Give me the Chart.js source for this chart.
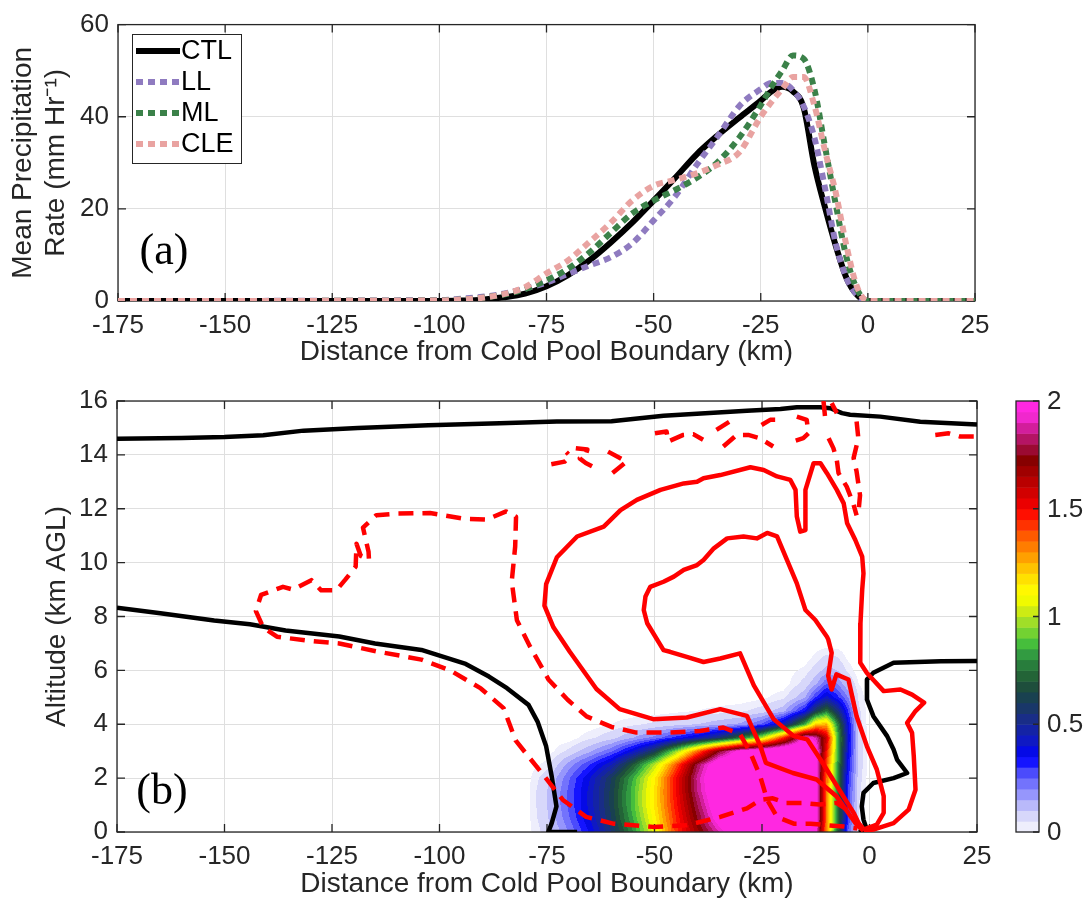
<!DOCTYPE html>
<html>
<head>
<meta charset="utf-8">
<title>Precipitation and cross-section relative to the cold pool boundary</title>
<script src="https://cdn.jsdelivr.net/npm/chart.js@4.4.1/dist/chart.umd.min.js"></script>
<style>
  html, body { margin: 0; padding: 0; background: #fff; }
  #wrap { position: relative; width: 1091px; height: 903px; overflow: hidden; }
  #wrap canvas { position: absolute; left: 0; }
  #rateChart { top: 0; width: 1091px; height: 372px; }
  #fieldChart { top: 372px; width: 1091px; height: 531px; }
</style>
</head>
<body>
<div id="wrap">
  <canvas id="rateChart" width="1091" height="372"></canvas>
  <canvas id="fieldChart" width="1091" height="531"></canvas>
</div>
<script>
// ---- panel (a): mean precipitation rate ----
const distance = [-175, -100, -95, -90, -85, -80, -75, -70, -65, -60, -55, -50, -45, -40, -35, -30, -25, -22.5, -20, -17.5, -15, -12.5, -10, -7.5, -5, -2.5, 0, 25];
const rateCTL = [0, 0, 0.1, 0.3, 0.8, 1.6, 3.2, 5.6, 8.8, 12.7, 17.0, 21.8, 26.7, 31.8, 36.0, 39.8, 43.5, 45.5, 46.5, 45.5, 42.0, 29.5, 20.3, 12.0, 5.0, 1.3, 0, 0];
const rateLL = [0, 0.2, 0.5, 0.9, 1.6, 2.7, 4.0, 5.9, 7.7, 9.5, 12.5, 17.5, 22.7, 29.5, 35.8, 42.3, 46.0, 47.3, 47.3, 45.8, 42.3, 35.5, 24.5, 12.5, 5.0, 1.3, 0, 0];
const rateML = [0, 0.1, 0.3, 0.7, 1.4, 2.6, 4.5, 7.0, 10.5, 14.8, 19.0, 21.8, 24.1, 26.7, 30.2, 35.5, 42.5, 46.5, 50.0, 53.3, 52.6, 46.0, 33.5, 21.0, 9.5, 2.5, 0, 0];
const rateCLE = [0, 0.1, 0.3, 0.7, 1.5, 3.0, 6.0, 8.8, 12.8, 17.0, 21.8, 25.0, 26.3, 27.7, 29.6, 32.3, 40.0, 43.2, 46.0, 48.6, 48.6, 42.5, 32.6, 23.5, 12.0, 3.0, 0, 0];
const rateLabels = ['CTL', 'LL', 'ML', 'CLE'];

// ---- panel (b): shaded field (columns = distance, rows = altitude) ----
const fieldX = [-85, -80, -75, -70, -65, -60, -55, -50, -45, -40, -35, -30, -25, -20, -15, -12.5, -10, -7.5, -5, -2.5, 0, 5];
const fieldZ = [0, 0.5, 1, 1.5, 2, 2.5, 3, 3.5, 4, 4.5, 5, 5.5, 6, 6.5, 7];
const fieldValues = [
  [0, 0, 0, 0, 0, 0, 0, 0, 0, 0, 0, 0, 0, 0, 0],
  [0, 0, 0, 0, 0, 0, 0, 0, 0, 0, 0, 0, 0, 0, 0],
  [0.07, 0.09, 0.1, 0.1, 0.08, 0.03, 0, 0, 0, 0, 0, 0, 0, 0, 0],
  [0.2, 0.24, 0.26, 0.26, 0.24, 0.17, 0.06, 0, 0, 0, 0, 0, 0, 0, 0],
  [0.36, 0.4, 0.42, 0.42, 0.4, 0.3, 0.14, 0.04, 0, 0, 0, 0, 0, 0, 0],
  [0.55, 0.6, 0.62, 0.62, 0.6, 0.45, 0.24, 0.08, 0.02, 0, 0, 0, 0, 0, 0],
  [0.8, 0.85, 0.88, 0.88, 0.85, 0.7, 0.4, 0.15, 0.04, 0, 0, 0, 0, 0, 0],
  [1.08, 1.13, 1.16, 1.16, 1.14, 1.0, 0.6, 0.22, 0.06, 0, 0, 0, 0, 0, 0],
  [1.42, 1.45, 1.48, 1.5, 1.5, 1.38, 0.95, 0.32, 0.08, 0.01, 0, 0, 0, 0, 0],
  [1.68, 1.75, 1.8, 1.85, 1.87, 1.8, 1.35, 0.42, 0.1, 0.02, 0, 0, 0, 0, 0],
  [1.9, 2.02, 2.08, 2.12, 2.14, 2.1, 1.75, 0.55, 0.13, 0.03, 0, 0, 0, 0, 0],
  [2.1, 2.2, 2.2, 2.2, 2.2, 2.2, 2.02, 0.75, 0.16, 0.04, 0, 0, 0, 0, 0],
  [2.2, 2.2, 2.2, 2.2, 2.2, 2.2, 2.1, 1.0, 0.26, 0.07, 0.01, 0, 0, 0, 0],
  [2.2, 2.2, 2.2, 2.2, 2.2, 2.2, 2.2, 1.45, 0.45, 0.13, 0.04, 0, 0, 0, 0],
  [2.2, 2.2, 2.2, 2.2, 2.2, 2.2, 2.2, 2.0, 0.85, 0.35, 0.14, 0.07, 0.03, 0, 0],
  [2.0, 2.05, 2.05, 2.05, 2.05, 2.05, 2.05, 1.9, 1.2, 0.6, 0.3, 0.14, 0.07, 0.03, 0],
  [1.3, 1.35, 1.35, 1.35, 1.35, 1.4, 1.5, 1.6, 1.25, 0.75, 0.42, 0.25, 0.12, 0.06, 0],
  [0.75, 0.8, 0.8, 0.8, 0.82, 0.85, 0.9, 0.9, 0.8, 0.55, 0.32, 0.2, 0.1, 0.05, 0],
  [0.25, 0.3, 0.3, 0.3, 0.32, 0.35, 0.38, 0.4, 0.38, 0.3, 0.2, 0.1, 0.04, 0.01, 0],
  [0.04, 0.05, 0.05, 0.06, 0.07, 0.08, 0.08, 0.08, 0.07, 0.06, 0.04, 0.02, 0, 0, 0],
  [0, 0, 0, 0, 0, 0, 0, 0, 0, 0, 0, 0, 0, 0, 0],
  [0, 0, 0, 0, 0, 0, 0, 0, 0, 0, 0, 0, 0, 0, 0]
];
const colorbarTicks = [0, 0.5, 1, 1.5, 2];

// ---- panel (b): contour lines, [distance km, altitude km] ----
const blackTop = [[-175, 14.6], [-160, 14.63], [-150, 14.66], [-141, 14.73], [-131.6, 14.9], [-119, 15.0], [-102.6, 15.1], [-86, 15.17], [-72.7, 15.24], [-60, 15.25], [-47.9, 15.45], [-28.5, 15.64], [-20.7, 15.7], [-16.9, 15.77], [-11.4, 15.77], [-9.1, 15.73], [-6.4, 15.55], [-4.5, 15.49], [2.5, 15.42], [11.8, 15.23], [25, 15.13]];
const blackLeft = [[-175, 8.33], [-164.9, 8.12], [-152.4, 7.85], [-144.1, 7.71], [-135.8, 7.48], [-123.3, 7.26], [-115, 7.0], [-104.2, 6.76], [-93.9, 6.24], [-88.5, 5.77], [-84.3, 5.34], [-79.3, 4.72], [-77.2, 4.1], [-75.2, 3.18], [-73.9, 2.06], [-72.8, 0.95], [-73.9, 0.33], [-74.7, 0], [-68, 0]];
const blackRight = [[25, 6.35], [16.6, 6.34], [5.6, 6.28], [0.9, 5.91], [-0.6, 5.66], [-0.6, 4.92], [0.9, 4.3], [4.1, 3.56], [5.6, 3.06], [6.4, 2.69], [8.75, 2.19], [5.6, 2.0], [0.9, 1.82], [-1.4, 1.45], [-1.8, 0.95], [-1.4, 0.46], [-0.6, 0.08], [-2.5, 0]];
const redOuter = [[-1.4, 0.05], [-3, 0.27], [-7.7, 1.33], [-12.3, 1.95], [-17.8, 2.19], [-24.1, 2.57], [-25.4, 3.19], [-28.5, 4.31], [-34.7, 4.56], [-42.5, 4.25], [-50.3, 4.19], [-58.1, 4.56], [-63.5, 5.31], [-69.7, 6.69], [-73.5, 7.6], [-75.6, 8.4], [-75.2, 9.2], [-72.7, 10.2], [-68, 10.97], [-61.8, 11.34], [-57.9, 11.95], [-54.1, 12.33], [-48.6, 12.7], [-43.2, 12.94], [-40.1, 13.0], [-38.6, 13.13], [-34.7, 13.25], [-27.7, 13.54], [-24.6, 13.44], [-21.5, 13.2], [-18.4, 13.07], [-17.2, 12.7], [-16.9, 11.71], [-16.1, 11.15], [-14.9, 11.21], [-14.9, 12.7], [-13, 13.69], [-11.4, 13.69], [-9.9, 13.32], [-7.6, 12.7], [-6.0, 12.2], [-5.2, 11.46], [-3.3, 10.84], [-1.7, 10.22], [-1.4, 9.6], [-1.7, 8.99], [-2.1, 7.75], [-2.1, 6.76], [-2.2, 6.28], [-0.6, 5.9], [3.3, 5.23], [7.2, 5.29], [9.9, 5.1], [12.7, 4.8], [10.7, 4.49], [8.75, 4.05], [9.9, 3.68], [10.3, 2.81], [10.7, 1.57], [9.1, 0.83], [5.6, 0.33], [0.9, 0.09], [-1.4, 0.05]];
const redInner = [[-2, 0.15], [-3.6, 0.69], [-7.5, 1.69], [-11.4, 2.69], [-14.5, 3.44], [-17.6, 3.56], [-22.3, 4.19], [-26.9, 5.44], [-30.1, 6.63], [-34.7, 6.44], [-38.6, 6.31], [-42.5, 6.5], [-46.4, 6.69], [-47.9, 6.75], [-51.7, 7.75], [-52.5, 8.24], [-52.1, 8.74], [-51, 9.1], [-47.9, 9.29], [-45.5, 9.48], [-43.2, 9.73], [-40.1, 9.91], [-38.6, 10.1], [-36.2, 10.53], [-33.1, 10.9], [-29.3, 10.97], [-26.2, 10.9], [-23.8, 11.1], [-21.5, 10.97], [-19.2, 10.1], [-16.9, 9.23], [-14.9, 8.24], [-12.6, 7.87], [-9.9, 7.25], [-9.6, 7.15], [-8.8, 6.65], [-9.6, 5.79], [-8.8, 5.29], [-7.7, 5.85], [-4.9, 5.66], [-3.0, 4.3], [-0.6, 3.18], [1.7, 2.32], [3.3, 1.33], [3.3, 0.71], [1.7, 0.27], [-1.4, 0.09]];
const dashLoop = [[-1.5, 0.15], [-3, 0.4], [-5, 0.8], [-7.7, 1.08], [-11.6, 1.02], [-15.5, 1.08], [-19.4, 1.08], [-22.5, 1.25], [-25.4, 1.19], [-28.5, 0.88], [-34.7, 0.56], [-42.5, 0.25], [-50.3, 0.19], [-59.6, 0.31], [-65.9, 0.56], [-71.3, 1.19], [-76.8, 2.31], [-79.3, 2.8], [-82.3, 3.4], [-85.1, 4.6], [-90.4, 5.33], [-97.5, 6.0], [-104.2, 6.4], [-114.5, 6.7], [-123.3, 7.0], [-130.5, 7.1], [-137.8, 7.25], [-141, 7.6], [-142.7, 8.2], [-141.5, 8.8], [-136.4, 9.1], [-134.1, 9.0], [-129.8, 9.35], [-127.5, 8.97], [-124, 8.97], [-122, 9.35], [-119.5, 9.85], [-119.3, 10.7], [-118.3, 10.25], [-116.4, 10.1], [-116.5, 10.4], [-117.8, 11.3], [-114.7, 11.76], [-110, 11.82], [-102.2, 11.84], [-94.4, 11.63], [-89, 11.6], [-84.5, 11.9], [-82.2, 11.7], [-82.4, 10.6], [-83.2, 9.3], [-82, 7.86], [-78.9, 6.87], [-74.6, 5.65], [-70.2, 4.91], [-65.8, 4.29], [-60, 3.9], [-54.2, 3.69], [-46.4, 3.69], [-39.4, 3.75], [-34, 3.88], [-30.1, 3.63], [-27.7, 2.94], [-25.4, 2.06], [-23.8, 1.19], [-21.5, 0.56], [-17.6, 0.31], [-13.7, 0.31], [-9.8, 0.25], [-5.9, 0.2], [-2.8, 0.13]];
const dashUpper1 = [[-74, 13.65], [-70.9, 13.75], [-69.6, 13.95], [-70.5, 14.1]];
const dashUpper2 = [[-68.3, 14.25], [-65.6, 14.2], [-66, 14.0], [-67.4, 13.87], [-66, 13.7], [-64.2, 13.55]];
const dashUpper3 = [[-60.8, 14.12], [-56.5, 13.75], [-60, 13.3]];
const dashUpper4 = [[-49.9, 14.8], [-47.2, 14.87], [-46.8, 14.5], [-43.3, 14.74], [-41, 14.77], [-38.7, 14.56]];
const dashUpper5 = [[-35.6, 14.93], [-32.5, 15.24]];
const dashUpper6 = [[-34, 14.31], [-30.9, 14.74], [-28.2, 14.74], [-25.5, 14.62], [-22.4, 14.31]];
const dashUpper7 = [[-25.1, 15.11], [-23.1, 15.3], [-21.2, 15.3]];
const dashUpper8 = [[-16.9, 15.42], [-14.6, 15.3], [-14.2, 14.8], [-15.4, 14.62], [-17.7, 14.5]];
const dashUpper9 = [[-10.7, 16.0], [-10.3, 15.36]];
const dashUpper10 = [[-8.8, 15.92], [-7.6, 15.55]];
const dashUpper11 = [[-9.5, 14.62], [-8.4, 14.25], [-7.6, 13.8], [-7.2, 13.32], [-5.3, 12.82], [-3.8, 12.2], [-3, 11.75]];
const dashUpper12 = [[-3, 15.24], [-2.6, 14.62], [-3.7, 13.88], [-3, 13.38], [-2.2, 12.5], [-2.5, 12.0], [-3, 11.75]];
const dashUpper13 = [[15.3, 14.74], [18.4, 14.8], [21.1, 14.68], [25, 14.68]];

// colour of each 0.05 band of the colour bar (index i = band ending at i*0.05)
const bandColors = [
  [255, 255, 255], [238, 238, 252], [215, 215, 250], [185, 185, 250], [150, 150, 252], [115, 115, 252],
  [75, 75, 252], [20, 20, 255], [5, 10, 230], [15, 25, 195], [20, 35, 165], [25, 45, 135], [25, 55, 105],
  [25, 65, 80], [30, 78, 60], [35, 100, 55], [40, 125, 60], [50, 155, 65], [70, 190, 60], [115, 210, 50],
  [160, 222, 40], [205, 235, 20], [240, 250, 0], [255, 248, 0], [255, 225, 0], [255, 195, 0], [255, 160, 0],
  [255, 125, 0], [255, 90, 0], [255, 50, 0], [255, 15, 0], [235, 0, 0], [210, 0, 0], [185, 0, 0], [160, 0, 0],
  [135, 0, 0], [155, 10, 50], [180, 20, 100], [210, 30, 155], [240, 40, 205], [255, 40, 225]
];

const SANS = "'Liberation Sans', Arial, Helvetica, sans-serif";
const SERIF = "'Liberation Serif', 'Times New Roman', serif";
const AXIS_COLOR = '#262626';
const GRID_COLOR = '#dfdfdf';

Chart.defaults.font.family = SANS;
Chart.defaults.color = AXIS_COLOR;

// box around the plot with MATLAB-style inward ticks
const matlabBox = {
  id: 'matlabBox',
  beforeDatasetsDraw(chart) {
    const { ctx, chartArea: a, scales: { x, y } } = chart;
    const len = 8;
    ctx.save();
    ctx.strokeStyle = AXIS_COLOR;
    ctx.lineWidth = 1.3;
    ctx.beginPath();
    x.ticks.forEach(t => {
      const px = x.getPixelForValue(t.value);
      ctx.moveTo(px, a.bottom); ctx.lineTo(px, a.bottom - len);
      ctx.moveTo(px, a.top); ctx.lineTo(px, a.top + len);
    });
    y.ticks.forEach(t => {
      const py = y.getPixelForValue(t.value);
      ctx.moveTo(a.left, py); ctx.lineTo(a.left + len, py);
      ctx.moveTo(a.right, py); ctx.lineTo(a.right - len, py);
    });
    ctx.stroke();
    ctx.strokeRect(a.left, a.top, a.right - a.left, a.bottom - a.top);
    ctx.restore();
  }
};

function panelTag(text, px, py) {
  return {
    id: 'panelTag',
    afterDatasetsDraw(chart) {
      const { ctx } = chart;
      ctx.save();
      ctx.font = '44px ' + SERIF;
      ctx.fillStyle = '#000';
      ctx.textAlign = 'center';
      ctx.textBaseline = 'middle';
      ctx.fillText(text, px, py);
      ctx.restore();
    }
  };
}

const rateLegend = {
  id: 'rateLegend',
  afterDatasetsDraw(chart) {
    const { ctx } = chart;
    ctx.save();
    ctx.fillStyle = '#fff';
    ctx.fillRect(132, 34, 109, 129);
    ctx.strokeStyle = AXIS_COLOR;
    ctx.lineWidth = 1;
    ctx.strokeRect(132.5, 34.5, 109, 129);
    const byLabel = {};
    chart.data.datasets.forEach(ds => { byLabel[ds.label] = ds; });
    rateLabels.forEach((label, i) => {
      const ds = byLabel[label];
      const yy = 51 + i * 31;
      ctx.strokeStyle = ds.borderColor;
      ctx.lineWidth = ds.borderWidth;
      ctx.setLineDash(ds.borderDash);
      ctx.beginPath();
      ctx.moveTo(136, yy);
      ctx.lineTo(180, yy);
      ctx.stroke();
      ctx.setLineDash([]);
      ctx.fillStyle = '#000';
      ctx.font = '27px ' + SANS;
      ctx.textBaseline = 'middle';
      ctx.fillText(label, 181, yy + 1);
    });
    ctx.restore();
  }
};

function sampleField(xv, zv) {
  const nx = fieldX.length, nz = fieldZ.length;
  if (xv <= fieldX[0] || xv >= fieldX[nx - 1] || zv < 0 || zv >= fieldZ[nz - 1]) return 0;
  let i = 0;
  while (fieldX[i + 1] < xv) i++;
  let j = 0;
  while (fieldZ[j + 1] < zv) j++;
  const tx = (xv - fieldX[i]) / (fieldX[i + 1] - fieldX[i]);
  const tz = (zv - fieldZ[j]) / (fieldZ[j + 1] - fieldZ[j]);
  const c = fieldValues;
  return (1 - tx) * (1 - tz) * c[i][j] + tx * (1 - tz) * c[i + 1][j] +
         (1 - tx) * tz * c[i][j + 1] + tx * tz * c[i + 1][j + 1];
}

function bandColor(v) {
  const idx = Math.max(1, Math.min(bandColors.length - 1, Math.ceil(v / 0.05 - 1e-9)));
  return bandColors[idx];
}

// shaded field drawn cell by cell through the chart's scales
const fieldLayer = {
  id: 'fieldLayer',
  beforeDatasetsDraw(chart) {
    const { ctx, chartArea: a, scales: { x, y } } = chart;
    const w = Math.round(a.right - a.left), h = Math.round(a.bottom - a.top);
    const off = document.createElement('canvas');
    off.width = w; off.height = h;
    const octx = off.getContext('2d');
    const img = octx.createImageData(w, h);
    const xs = [];
    for (let i = 0; i < w; i++) xs.push(x.getValueForPixel(a.left + i + 0.5));
    for (let j = 0; j < h; j++) {
      const zv = y.getValueForPixel(a.top + j + 0.5);
      for (let i = 0; i < w; i++) {
        const v = sampleField(xs[i], zv);
        if (v < 0.02) continue;
        const c = bandColor(v);
        const k = (j * w + i) * 4;
        img.data[k] = c[0]; img.data[k + 1] = c[1]; img.data[k + 2] = c[2]; img.data[k + 3] = 255;
      }
    }
    octx.putImageData(img, 0, 0);
    ctx.drawImage(off, a.left, a.top);
  }
};

const colorBar = {
  id: 'colorBar',
  afterDraw(chart) {
    const { ctx, chartArea: a } = chart;
    const left = 1016, right = 1039, top = a.top, bottom = a.bottom;
    const vmax = colorbarTicks[colorbarTicks.length - 1];
    const toY = v => bottom - (v / vmax) * (bottom - top);
    ctx.save();
    for (let i = 1; i < bandColors.length; i++) {
      const c = bandColors[i];
      const y0 = toY((i - 1) * 0.05), y1 = toY(i * 0.05);
      ctx.fillStyle = `rgb(${c[0]},${c[1]},${c[2]})`;
      ctx.fillRect(left, y1, right - left, y0 - y1 + 0.5);
    }
    ctx.strokeStyle = AXIS_COLOR;
    ctx.lineWidth = 1.3;
    ctx.strokeRect(left, top, right - left, bottom - top);
    ctx.beginPath();
    colorbarTicks.forEach(t => {
      const py = toY(t);
      ctx.moveTo(right, py); ctx.lineTo(right - 6, py);
    });
    ctx.stroke();
    ctx.fillStyle = AXIS_COLOR;
    ctx.font = '26px ' + SANS;
    ctx.textBaseline = 'middle';
    colorbarTicks.forEach(t => ctx.fillText(String(t), 1047, toY(t) + 1));
    ctx.restore();
  }
};

function axisX(titleText, height, titlePad) {
  return {
    type: 'linear', min: -175, max: 25,
    afterFit(scale) { scale.height = height; },
    grid: { color: GRID_COLOR, drawTicks: false },
    border: { display: false },
    ticks: { stepSize: 25, autoSkip: false, maxRotation: 0, padding: 9, color: AXIS_COLOR, font: { size: 26 } },
    title: { display: true, text: titleText, color: AXIS_COLOR, font: { size: 28 }, padding: { top: 0, bottom: titlePad } }
  };
}

// ---- chart (a) ----
const rateStyles = [
  { values: rateCTL, color: '#000000', dash: [], order: 4 },
  { values: rateLL, color: '#8f7bc0', dash: [7, 5], order: 3 },
  { values: rateML, color: '#3b8149', dash: [7, 5], order: 2 },
  { values: rateCLE, color: '#e9a3a1', dash: [7, 5], order: 1 }
];

new Chart(document.getElementById('rateChart'), {
  type: 'line',
  data: {
    datasets: rateStyles.map((s, i) => ({
      label: rateLabels[i],
      data: distance.map((d, k) => ({ x: d, y: s.values[k] })),
      borderColor: s.color,
      borderWidth: 6,
      borderDash: s.dash,
      borderCapStyle: 'butt',
      pointRadius: 0,
      fill: false,
      cubicInterpolationMode: 'monotone',
      order: s.order
    }))
  },
  options: {
    responsive: false,
    animation: false,
    devicePixelRatio: 1,
    events: [],
    layout: { padding: { left: 0, top: 23, right: 116, bottom: 0 } },
    plugins: { legend: { display: false }, tooltip: { enabled: false } },
    scales: {
      x: axisX('Distance from Cold Pool Boundary (km)', 71, 3),
      y: {
        type: 'linear', min: 0, max: 60,
        afterFit(scale) { scale.width = 118; },
        grid: { color: GRID_COLOR, drawTicks: false },
        border: { display: false },
        ticks: { stepSize: 20, padding: 9, color: AXIS_COLOR, font: { size: 26 } },
        title: { display: true, text: ['Mean Precipitation', 'Rate (mm Hr\u207B\u00B9)'], color: AXIS_COLOR, font: { size: 28 }, padding: { top: 6, bottom: 0 } }
      }
    }
  },
  plugins: [matlabBox, rateLegend, panelTag('(a)', 164, 252)]
});

// ---- chart (b) ----
function contour(points, color, dashed) {
  return {
    data: points.map(([x, y]) => ({ x, y })),
    showLine: true,
    borderColor: color,
    borderWidth: 4.5,
    borderDash: dashed ? [15, 9] : [],
    borderCapStyle: 'butt',
    borderJoinStyle: 'round',
    pointRadius: 0,
    fill: false,
    tension: 0
  };
}

const RED = '#ff0000';
const BLACK = '#000000';
const dashedPieces = [dashLoop, dashUpper1, dashUpper2, dashUpper3, dashUpper4, dashUpper5, dashUpper6, dashUpper7,
  dashUpper8, dashUpper9, dashUpper10, dashUpper11, dashUpper12, dashUpper13];

new Chart(document.getElementById('fieldChart'), {
  type: 'scatter',
  data: {
    datasets: [
      ...dashedPieces.map(p => contour(p, RED, true)),
      contour(redOuter, RED, false),
      contour(redInner, RED, false),
      contour(blackTop, BLACK, false),
      contour(blackLeft, BLACK, false),
      contour(blackRight, BLACK, false)
    ]
  },
  options: {
    responsive: false,
    animation: false,
    devicePixelRatio: 1,
    events: [],
    layout: { padding: { left: 0, top: 29, right: 114, bottom: 0 } },
    plugins: { legend: { display: false }, tooltip: { enabled: false } },
    scales: {
      x: axisX('Distance from Cold Pool Boundary (km)', 71, 2),
      y: {
        type: 'linear', min: 0, max: 16,
        afterFit(scale) { scale.width = 117; },
        grid: { color: GRID_COLOR, drawTicks: false },
        border: { display: false },
        ticks: { stepSize: 2, padding: 9, color: AXIS_COLOR, font: { size: 26 } },
        title: { display: true, text: 'Altitude (km AGL)', color: AXIS_COLOR, font: { size: 28 }, padding: { top: 40, bottom: 0 } }
      }
    }
  },
  plugins: [fieldLayer, matlabBox, panelTag('(b)', 162, 420), colorBar]
});
</script>
</body>
</html>
